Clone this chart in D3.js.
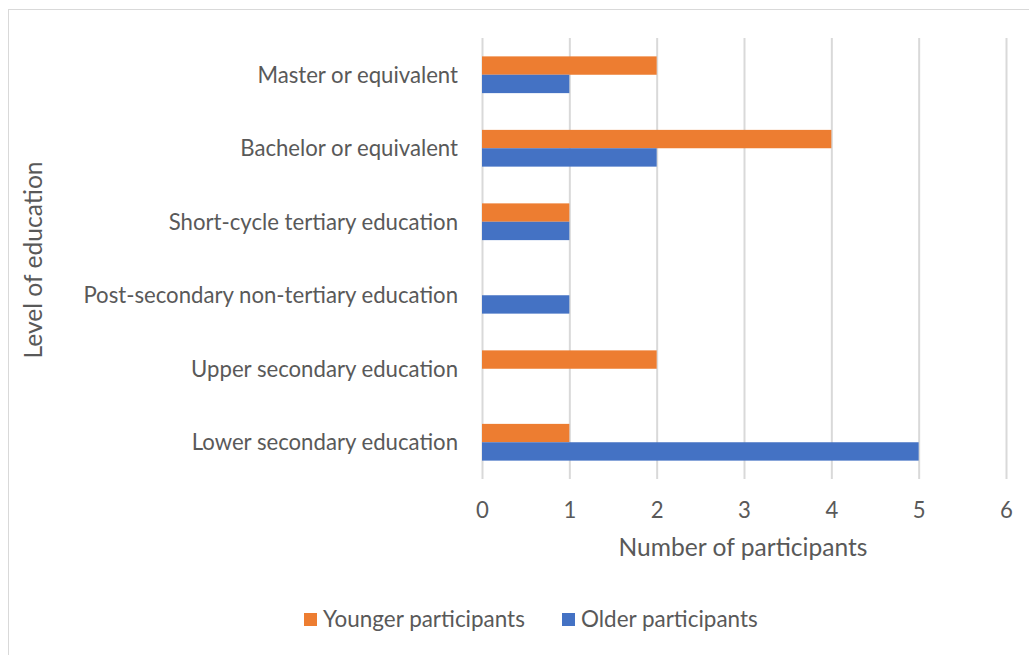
<!DOCTYPE html>
<html><head><meta charset="utf-8">
<script src="https://cdn.jsdelivr.net/npm/d3@7"></script>
<style>body{margin:0;background:#fff}svg{display:block}text{font-family:Lato,"Open Sans",sans-serif}</style>
</head><body><svg id="c" width="1029" height="655"></svg>
<script>
const categories = ["Master or equivalent","Bachelor or equivalent","Short-cycle tertiary education","Post-secondary non-tertiary education","Upper secondary education","Lower secondary education"];
const seriesNames = ["Younger participants","Older participants"];
const younger = [2,4,1,0,2,1];
const older = [1,2,1,1,0,5];
const xTicks = [0,1,2,3,4,5,6];
const colors = ["#ED7D31","#4472C4"];

const svg = d3.select("#c");
svg.append("rect").attr("x",8.5).attr("y",9.5).attr("width",1030).attr("height",660)
  .attr("fill","#fff").attr("stroke","#d9d9d9").attr("stroke-width",1);

// size helper: font size so that a given string spans a target width
function fitSize(str, target){
  const t = svg.append("text").attr("font-size","20px").text(str);
  const w = t.node().getComputedTextLength(); t.remove();
  return 20*target/w;
}
const catSize = fitSize("Post-secondary non-tertiary education", 375);
const titleSize = fitSize("Number of participants", 249);
const legSize = fitSize("Younger participants", 202);

const L=482, R=1006, T=38, B=479;
const x = d3.scaleLinear().domain([0,6]).range([L,R]);
const y = d3.scaleBand().domain(categories).range([T,B]).paddingInner(0.5).paddingOuter(0.25);
const sub = d3.scaleBand().domain(seriesNames).range([0,y.bandwidth()]);

const grid = svg.append("g").attr("transform",`translate(0,${B})`)
  .call(d3.axisBottom(x).tickValues(xTicks).tickSize(-(B-T)).tickFormat(d3.format("d")));
grid.select(".domain").remove();
grid.selectAll(".tick line").attr("stroke","#d9d9d9").attr("stroke-width",2);
grid.selectAll(".tick text").attr("y",23).attr("fill","#595959").attr("font-size",catSize+"px")
  .attr("font-family","Lato,sans-serif");

const data = [younger, older];
data.forEach((vals,si)=>{
  svg.append("g").selectAll("rect").data(categories).join("rect")
    .attr("x",x(0)).attr("y",c=>y(c)+sub(seriesNames[si]))
    .attr("width",(c,i)=>x(vals[i])-x(0)).attr("height",sub.bandwidth())
    .attr("fill",colors[si]);
});

svg.append("g").selectAll("text").data(categories).join("text")
  .attr("x",458).attr("y",c=>y(c)+y.bandwidth()/2).attr("dy","0.35em")
  .attr("text-anchor","end").attr("fill","#595959").attr("font-size",catSize+"px").text(d=>d);

svg.append("text").attr("x",743).attr("y",556).attr("text-anchor","middle")
  .attr("fill","#595959").attr("font-size",titleSize+"px").text("Number of participants");
svg.append("text").attr("transform","translate(42,260) rotate(-90)").attr("text-anchor","middle")
  .attr("fill","#595959").attr("font-size",titleSize+"px").text("Level of education");

const leg = [{n:seriesNames[0],c:colors[0],x:304},{n:seriesNames[1],c:colors[1],x:562}];
leg.forEach(d=>{
  svg.append("rect").attr("x",d.x).attr("y",613).attr("width",13).attr("height",13).attr("fill",d.c);
  svg.append("text").attr("x",d.x+19).attr("y",619.5).attr("dy","0.35em").attr("fill","#595959")
    .attr("font-size",legSize+"px").text(d.n);
});
</script></body></html>
